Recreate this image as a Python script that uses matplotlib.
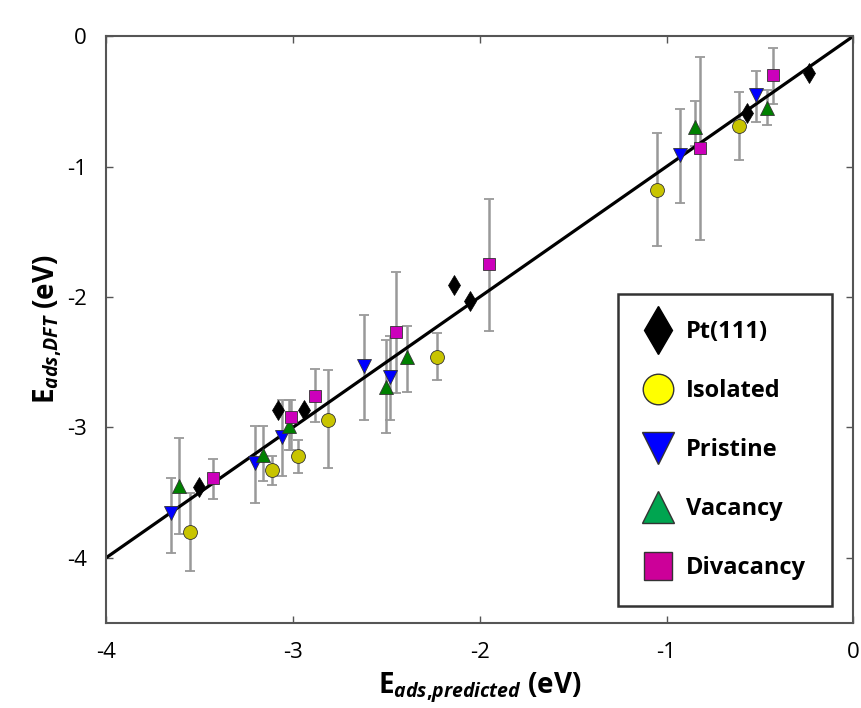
import matplotlib
matplotlib.use("Agg")
import matplotlib.pyplot as plt
from matplotlib.lines import Line2D
import numpy as np

plt.rcParams["font.family"] = ["Open Sans", "DejaVu Sans"]
plt.rcParams["axes.unicode_minus"] = False
plt.rcParams["mathtext.fontset"] = "custom"
plt.rcParams["mathtext.rm"] = "Open Sans:bold"
plt.rcParams["mathtext.bf"] = "Open Sans:bold"
plt.rcParams["mathtext.it"] = "Open Sans:italic:bold"

# Pt(111) - sin barras de error
pt_x = [-3.50, -3.08, -2.94, -2.14, -2.05, -0.57, -0.24]
pt_y = [-3.46, -2.87, -2.87, -1.91, -2.03, -0.59, -0.28]

# Isolated
iso_x = [-3.55, -3.11, -2.97, -2.81, -2.23, -1.05, -0.61]
iso_y = [-3.80, -3.33, -3.22, -2.94, -2.46, -1.18, -0.69]
iso_lo = [-4.10, -3.44, -3.35, -3.31, -2.64, -1.61, -0.95]
iso_hi = [-3.50, -3.22, -3.10, -2.56, -2.28, -0.74, -0.43]

# Pristine
pri_x = [-3.65, -3.20, -3.06, -2.62, -2.48, -0.93, -0.52]
pri_y = [-3.66, -3.27, -3.07, -2.53, -2.61, -0.91, -0.45]
pri_lo = [-3.96, -3.58, -3.37, -2.94, -2.94, -1.28, -0.66]
pri_hi = [-3.39, -2.99, -2.79, -2.14, -2.30, -0.56, -0.27]

# Vacancy
vac_x = [-3.61, -3.16, -3.02, -2.50, -2.39, -0.85, -0.46]
vac_y = [-3.45, -3.21, -2.99, -2.69, -2.46, -0.70, -0.55]
vac_lo = [-3.82, -3.41, -3.17, -3.04, -2.73, -0.84, -0.68]
vac_hi = [-3.08, -2.99, -2.79, -2.33, -2.22, -0.50, -0.41]

# Divacancy
div_x = [-3.43, -3.01, -2.88, -2.45, -1.95, -0.82, -0.43]
div_y = [-3.39, -2.92, -2.76, -2.27, -1.75, -0.86, -0.30]
div_lo = [-3.55, -3.17, -2.96, -2.74, -2.26, -1.56, -0.52]
div_hi = [-3.24, -2.79, -2.55, -1.81, -1.25, -0.16, -0.09]

ticks = [-4, -3, -2, -1, 0]
labels = ["Pt(111)", "Isolated", "Pristine", "Vacancy", "Divacancy"]

fig = plt.figure(figsize=(8.62, 7.08), dpi=100)
ax = fig.add_axes([0.123, 0.12, 0.867, 0.829])

ax.plot([-4, 0], [-4, 0], color="black", lw=2.3, zorder=2)

ecol = "#999999"


def serie(x, y, lo, hi, marker, color, ms):
    x = np.array(x)
    y = np.array(y)
    err = [y - np.array(lo), np.array(hi) - y]
    ax.errorbar(x, y, yerr=err, fmt="none", ecolor=ecol, elinewidth=1.8,
                capsize=3.5, capthick=1.3, zorder=1)
    ax.plot(x, y, linestyle="none", marker=marker, color=color, ms=ms,
            markeredgecolor="#333333", markeredgewidth=0.6, zorder=3)


serie(iso_x, iso_y, iso_lo, iso_hi, "o", "#c8c400", 10)
serie(pri_x, pri_y, pri_lo, pri_hi, "v", "#0000ff", 10)
serie(vac_x, vac_y, vac_lo, vac_hi, "^", "#008000", 10)
serie(div_x, div_y, div_lo, div_hi, "s", "#cc00bb", 9)
ax.plot(pt_x, pt_y, linestyle="none", marker="d", color="black", ms=10,
        markeredgewidth=0.5, zorder=3)

ax.set_xlim(-4, 0)
ax.set_ylim(-4.5, 0)
ax.set_xticks(ticks)
ax.set_yticks(ticks)
ax.tick_params(direction="in", length=5, width=1, colors="#555555",
               top=True, right=True, labelsize=16, labelcolor="black", pad=14)
for s in ax.spines.values():
    s.set_color("#555555")
    s.set_linewidth(1.5)

ax.set_xlabel(r"$\mathbf{E}_{\mathit{ads{,}predicted}}$ (eV)", fontsize=20,
              fontweight="bold", labelpad=5)
ax.set_ylabel(r"$\mathbf{E}_{\mathit{ads{,}DFT}}$ (eV)", fontsize=20,
              fontweight="bold", labelpad=2)

handles = [
    Line2D([], [], ls="none", marker="d", color="black", ms=24),
    Line2D([], [], ls="none", marker="o", color="#ffff00", mec="#333333", ms=22),
    Line2D([], [], ls="none", marker="v", color="#0000ff", mec="#333333", ms=23),
    Line2D([], [], ls="none", marker="^", color="#00a550", mec="#333333", ms=23),
    Line2D([], [], ls="none", marker="s", color="#cc0099", mec="#333333", ms=20),
]
leg = ax.legend(handles, labels, loc="lower right", bbox_to_anchor=(0.972, 0.029),
                prop={"weight": "bold", "size": 17}, frameon=True, fancybox=False,
                edgecolor="black", labelspacing=1.48, borderpad=1.1,
                handlelength=1.2, handletextpad=0.6, borderaxespad=0)
leg.get_frame().set_linewidth(1.8)

fig.savefig("out.png", dpi=100)
